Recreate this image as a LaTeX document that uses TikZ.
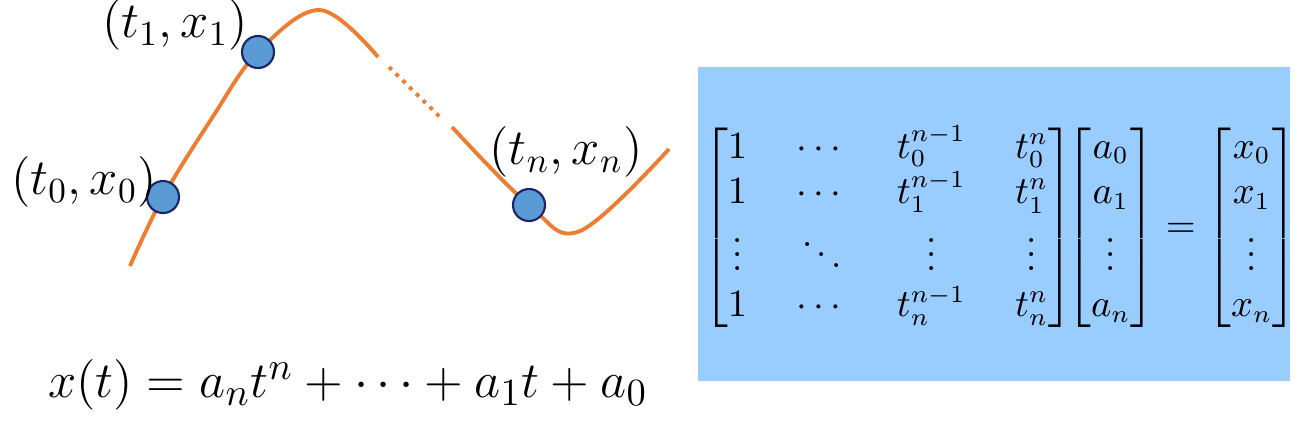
\documentclass[tikz,border=0pt]{standalone}
\usepackage{amsmath,amssymb}
\usepackage{tikz}
\usetikzlibrary{positioning}
\definecolor{curveorange}{HTML}{ED7D31}
\definecolor{dotfill}{HTML}{5B9BD5}
\definecolor{dotdraw}{HTML}{1A2466}
\definecolor{boxblue}{HTML}{99CCFF}
\newcommand{\ptlab}[1]{$(t_{#1},x_{#1})$}
\tikzset{
  curve/.style={draw=curveorange,line width=1.1pt},
  gapcurve/.style={curve,dash pattern=on 1.1pt off 1.6pt},
  sample/.style={circle,draw=dotdraw,fill=dotfill,line width=0.6pt,
                 minimum size=0.32cm,inner sep=0pt},
  ptlabel/.style={font=\fontsize{14}{16}\selectfont,inner sep=1pt},
  mathbox/.style={fill=boxblue,minimum width=5.92cm,minimum height=3.14cm,inner sep=0pt},
  eqn/.style={inner sep=0pt,font=\fontsize{10.5}{13}\selectfont}
}

\begin{document}
\begin{tikzpicture}[x=0.01cm,y=-0.01cm]
  \useasboundingbox (0,0) rectangle (1307,426);
  % curve through the samples
  \draw[curve] plot[smooth,tension=0.6] coordinates
    {(130,266) (163,197) (212,118) (258,52) (320,10) (378,57)};
  \draw[gapcurve] (389,67) -- (440,117);
  \draw[curve] plot[smooth,tension=0.6] coordinates
    {(452,127) (529,205) (580,231) (669,149)};
  \node[sample] (p0) at (163,197) {};
  \node[sample] (p1) at (258,52) {};
  \node[sample] (pn) at (529,205) {};
  \node[ptlabel] (l0) at (84,182) {\ptlab{0}};
  \node[ptlabel] (l1) at (175,25) {\ptlab{1}};
  \node[ptlabel] (ln) at (566,152) {\ptlab{n}};
  % polynomial
  \node[eqn,font=\fontsize{15.3}{18}\selectfont] (poly) at (348,385)
    {$x(t)=a_nt^n+\cdots+a_1t+a_0$};
  % linear system
  \node[mathbox] (box) at (994,224) {};
  \node[eqn] (sys) at (1000,228) {$\setlength{\arraycolsep}{7pt}
    \begin{bmatrix}1&\cdots&t_0^{n-1}&t_0^n\\1&\cdots&t_1^{n-1}&t_1^n\\
    \vdots&\ddots&\vdots&\vdots\\1&\cdots&t_n^{n-1}&t_n^n\end{bmatrix}
    \setlength{\arraycolsep}{3pt}\!\!
    \begin{bmatrix}a_0\\a_1\\\vdots\\a_n\end{bmatrix}=
    \begin{bmatrix}x_0\\x_1\\\vdots\\x_n\end{bmatrix}$};
\end{tikzpicture}
\end{document}
